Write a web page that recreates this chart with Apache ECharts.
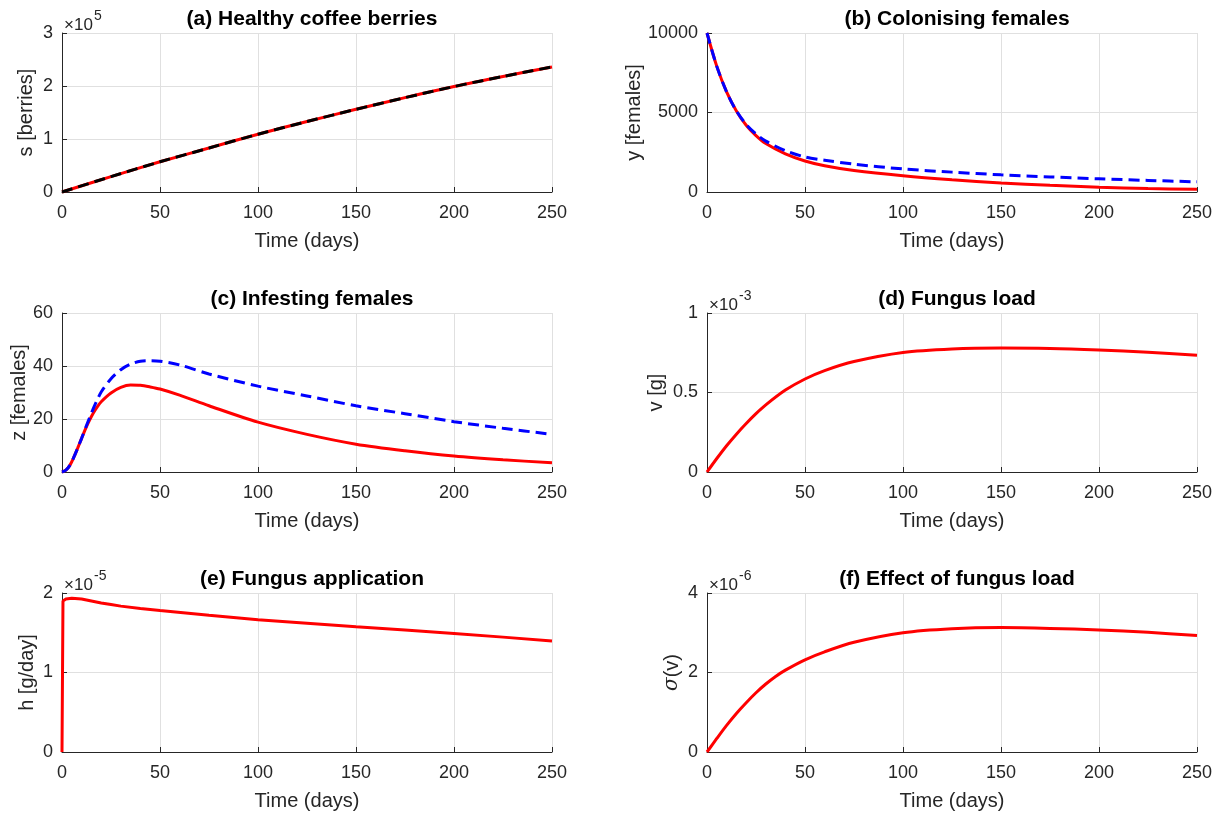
<!DOCTYPE html>
<html><head><meta charset="utf-8">
<script src="https://cdn.jsdelivr.net/npm/echarts@6/dist/echarts.min.js"></script>
<style>html,body{margin:0;padding:0;background:#fff}#c{width:1222px;height:816px}</style>
</head><body><div id="c"></div>
<script>
// ---------- data ----------
const timeTicks = [0, 50, 100, 150, 200, 250];

// (a) Healthy coffee berries, s  (x 1e5)
const sTime  = [0, 25, 50, 75, 100, 125, 150, 175, 200, 225, 250];
const sRed   = [0, 0.29, 0.57, 0.83, 1.09, 1.33, 1.56, 1.78, 1.99, 2.18, 2.36];
const sBlack = [0, 0.29, 0.57, 0.83, 1.09, 1.33, 1.56, 1.78, 1.99, 2.18, 2.36];

// (b) Colonising females, y
const yTime = [0, 5, 10, 15, 20, 25, 30, 40, 50, 60, 75, 100, 125, 150, 175, 200, 225, 250];
const yRed  = [10000, 7900, 6300, 5100, 4200, 3550, 3050, 2400, 1950, 1650, 1350, 1020, 770, 570, 420, 300, 220, 170];
const yBlue = [10000, 7900, 6300, 5100, 4250, 3650, 3200, 2600, 2200, 2000, 1750, 1450, 1250, 1080, 950, 830, 730, 640];

// (c) Infesting females, z
const zTime = [0, 2, 4, 6, 8, 10, 12, 14, 16, 18, 20, 25, 30, 35, 40, 45, 50, 60, 75, 100, 125, 150, 175, 200, 225, 250];
const zRed  = [0, 0.7, 2.5, 5.5, 9, 12.7, 16.3, 19.5, 22.3, 24.6, 26.5, 29.8, 31.9, 32.8, 32.7, 32.1, 31.3, 29.0, 25.0, 18.8, 14.2, 10.5, 8, 6, 4.6, 3.5];
const zBlue = [0, 0.7, 2.5, 5.5, 9, 12.7, 16.6, 20.4, 24, 27.3, 30.2, 35.2, 38.6, 40.7, 41.8, 42, 41.8, 40.4, 37, 32.4, 28.7, 25, 22, 19, 16.5, 14.2];

// (d) Fungus load, v (x 1e-3)
const vTime = [0, 5, 10, 15, 20, 25, 30, 40, 50, 60, 75, 100, 125, 150, 175, 200, 225, 250];
const vRed  = [0, 0.085, 0.165, 0.238, 0.305, 0.367, 0.422, 0.515, 0.585, 0.638, 0.695, 0.752, 0.774, 0.78, 0.777, 0.767, 0.753, 0.735];

// (e) Fungus application, h (x 1e-5)
const hTime = [0, 0.5, 2, 5, 10, 15, 20, 25, 30, 40, 50, 75, 100, 125, 150, 175, 200, 225, 250];
const hRed  = [0, 1.9, 1.925, 1.935, 1.925, 1.9, 1.875, 1.855, 1.835, 1.805, 1.78, 1.72, 1.665, 1.62, 1.575, 1.535, 1.49, 1.445, 1.395];

// (f) Effect of fungus load, sigma(v) (x 1e-6)
const fTime = [0, 5, 10, 15, 20, 25, 30, 35, 40, 50, 60, 75, 100, 125, 150, 175, 200, 225, 250];
const fRed  = [0, 0.34, 0.67, 0.97, 1.24, 1.49, 1.71, 1.9, 2.06, 2.32, 2.52, 2.76, 3.0, 3.1, 3.13, 3.11, 3.07, 3.01, 2.93];

const titles  = ['(a) Healthy coffee berries', '(b) Colonising females', '(c) Infesting females',
                 '(d) Fungus load', '(e) Fungus application', '(f) Effect of fungus load'];
const yNames  = ['s [berries]', 'y [females]', 'z [females]', 'v [g]', 'h [g/day]', '{s|σ}(v)'];
const yMax    = [3, 10000, 60, 1, 2, 4];
const yStep   = [1, 5000, 20, 0.5, 1, 2];
const expo    = [{panel: 0, e: '5'}, {panel: 3, e: '-3'}, {panel: 4, e: '-5'}, {panel: 5, e: '-6'}];

// ---------- layout ----------
const FONT = "'Liberation Sans', Arial, Helvetica, sans-serif";
const INK = '#262626';
const colLeft = [62, 707], rowTop = [33, 313, 593];
const W = 490, H = 159;
const nameGaps = [26, 61, 32, 41, 25, 25];

function pair(t, v) { return t.map((x, i) => [x, v[i]]); }

const grids = [], xAxes = [], yAxes = [], titleArr = [], graphics = [];
for (let i = 0; i < 6; i++) {
  const L = colLeft[i % 2], T = rowTop[Math.floor(i / 2)];
  grids.push({left: L, top: T, width: W, height: H, containLabel: false});
  xAxes.push({
    type: 'value', gridIndex: i, min: 0, max: 250, interval: 50,
    name: 'Time (days)', nameLocation: 'middle', nameGap: 39,
    nameTextStyle: {fontSize: 20, color: INK, fontFamily: FONT},
    axisLine: {show: true, onZero: false, lineStyle: {color: INK, width: 1}},
    axisTick: {show: true, inside: true, length: 5, lineStyle: {color: INK}},
    axisLabel: {fontSize: 18, color: INK, margin: 12, fontFamily: FONT},
    splitLine: {show: true, lineStyle: {color: '#e0e0e0', width: 1}}
  });
  yAxes.push({
    type: 'value', gridIndex: i, min: 0, max: yMax[i], interval: yStep[i],
    name: yNames[i], nameLocation: 'middle', nameGap: nameGaps[i],
    nameTextStyle: {fontSize: 20, color: INK, fontFamily: FONT,
      rich: {s: {fontSize: 20, color: INK, fontFamily: "'DejaVu Serif', serif", fontStyle: 'italic'}}},
    axisLine: {show: true, onZero: false, lineStyle: {color: INK, width: 1}},
    axisTick: {show: true, inside: true, length: 5, lineStyle: {color: INK}},
    axisLabel: {fontSize: 18, color: INK, margin: 9, fontFamily: FONT,
                formatter: v => String(v)},
    splitLine: {show: true, lineStyle: {color: '#e0e0e0', width: 1}}
  });
  titleArr.push({
    text: titles[i], left: L + W / 2, top: T - 29, textAlign: 'center',
    textStyle: {fontSize: 21, fontWeight: 'bold', color: '#000', fontFamily: FONT}
  });
}
expo.forEach(o => {
  const L = colLeft[o.panel % 2], T = rowTop[Math.floor(o.panel / 2)];
  graphics.push({type: 'text', x: L + 2, y: T - 8,
    style: {text: '×10', fill: INK, font: '17px ' + FONT, verticalAlign: 'middle', align: 'left'}});
  graphics.push({type: 'text', x: L + 32, y: T - 17,
    style: {text: o.e, fill: INK, font: '14px ' + FONT, verticalAlign: 'middle', align: 'left'}});
});

function line(idx, data, color, dashed, z) {
  return {
    type: 'line', xAxisIndex: idx, yAxisIndex: idx, data: data,
    showSymbol: false, smooth: 0.3, clip: false, z: z || 2,
    lineStyle: {color: color, width: 3, type: dashed ? [11, 6] : 'solid'},
    animation: false
  };
}
const series = [
  line(0, pair(sTime, sRed), '#ff0000', false, 2),
  line(0, pair(sTime, sBlack), '#000000', true, 3),
  line(1, pair(yTime, yRed), '#ff0000', false, 2),
  line(1, pair(yTime, yBlue), '#0000ff', true, 3),
  line(2, pair(zTime, zRed), '#ff0000', false, 2),
  line(2, pair(zTime, zBlue), '#0000ff', true, 3),
  line(3, pair(vTime, vRed), '#ff0000', false, 2),
  Object.assign(line(4, pair(hTime, hRed), '#ff0000', false, 2), {smooth: false}),
  line(5, pair(fTime, fRed), '#ff0000', false, 2)
];

const chart = echarts.init(document.getElementById('c'), null, {renderer: 'canvas'});
chart.setOption({
  backgroundColor: '#ffffff',
  animation: false,
  title: titleArr,
  grid: grids,
  xAxis: xAxes,
  yAxis: yAxes,
  graphic: graphics,
  series: series
});
</script>
</body></html>
